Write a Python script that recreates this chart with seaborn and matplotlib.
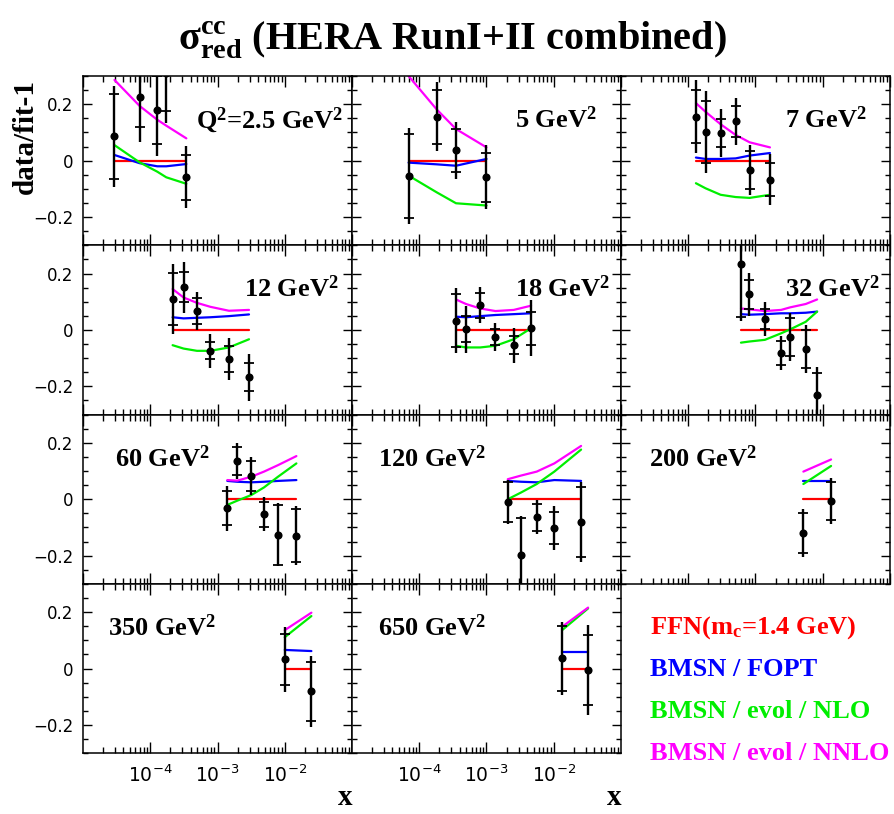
import numpy as np
import pandas as pd
import matplotlib
matplotlib.use("Agg")
import matplotlib.pyplot as plt
import matplotlib.ticker as mticker
import seaborn as sns

# ---------------- data ----------------
q2_labels = [r"Q$^{\mathbf{2}}$=2.5 GeV$^{\mathbf{2}}$", r"5 GeV$^{\mathbf{2}}$", r"7 GeV$^{\mathbf{2}}$",
             r"12 GeV$^{\mathbf{2}}$", r"18 GeV$^{\mathbf{2}}$", r"32 GeV$^{\mathbf{2}}$",
             r"60 GeV$^{\mathbf{2}}$", r"120 GeV$^{\mathbf{2}}$", r"200 GeV$^{\mathbf{2}}$",
             r"350 GeV$^{\mathbf{2}}$", r"650 GeV$^{\mathbf{2}}$"]

x_data = [
    [2.94e-5, 6.94e-5, 1.27e-4, 1.73e-4, 3.44e-4],
    [6.94e-5, 1.81e-4, 3.52e-4, 1.0e-3],
    [1.30e-4, 1.81e-4, 3.03e-4, 5.07e-4, 8.18e-4, 1.64e-3],
    [2.15e-4, 3.13e-4, 4.95e-4, 7.82e-4, 1.48e-3, 2.94e-3],
    [3.52e-4, 4.95e-4, 8.09e-4, 1.36e-3, 2.54e-3, 4.60e-3],
    [6.08e-4, 8.09e-4, 1.38e-3, 2.40e-3, 3.27e-3, 5.59e-3, 8.24e-3],
    [1.40e-3, 1.97e-3, 3.19e-3, 4.92e-3, 7.96e-3, 1.49e-2],
    [2.07e-3, 3.27e-3, 5.59e-3, 1.02e-2, 2.55e-2],
    [5.15e-3, 1.33e-2],
    [1.0e-2, 2.49e-2],
    [1.33e-2, 3.24e-2],
]
y_data = [
    [0.086, 0.227, 0.180, 0.31, -0.059],
    [-0.055, 0.156, 0.036, -0.059],
    [0.156, 0.102, 0.098, 0.139, -0.033, -0.068],
    [0.109, 0.151, 0.067, -0.074, -0.104, -0.168],
    [0.033, 0.002, 0.088, -0.026, -0.054, 0.006],
    [0.232, 0.126, 0.039, -0.082, -0.026, -0.068, -0.232],
    [-0.032, 0.136, 0.082, -0.053, -0.126, -0.129],
    [-0.009, -0.196, -0.064, -0.102, -0.081],
    [-0.12, -0.006],
    [0.033, -0.081],
    [0.036, -0.005],
]
err_inner = [
    [0.15, 0.107, 0.121, 0.134, 0.08],
    [0.148, 0.096, 0.076, 0.086],
    [0.094, 0.11, 0.05, 0.054, 0.068, 0.058],
    [0.092, 0.053, 0.046, 0.03, 0.046, 0.05],
    [0.095, 0.046, 0.044, 0.029, 0.032, 0.059],
    [0.187, 0.052, 0.035, 0.043, 0.068, 0.067, 0.081],
    [0.06, 0.05, 0.054, 0.044, 0.106, 0.095],
    [0.071, 0.129, 0.048, 0.058, 0.123],
    [0.072, 0.068],
    [0.09, 0.105],
    [0.115, 0.124],
]
err_total = [
    [0.178, 0.162, 0.162, 0.175, 0.11],
    [0.17, 0.123, 0.1, 0.114],
    [0.13, 0.146, 0.085, 0.083, 0.09, 0.09],
    [0.124, 0.09, 0.067, 0.06, 0.075, 0.083],
    [0.115, 0.082, 0.065, 0.05, 0.062, 0.099],
    [0.2, 0.076, 0.059, 0.06, 0.085, 0.085, 0.1],
    [0.08, 0.063, 0.066, 0.06, 0.112, 0.105],
    [0.078, 0.135, 0.06, 0.077, 0.141],
    [0.085, 0.08],
    [0.115, 0.125],
    [0.128, 0.161],
]
ffn = [[0.0] * len(v) for v in x_data]
bmsn_fopt = [
    [0.02, -0.009, -0.02, -0.02, -0.012],
    [-0.007, -0.013, -0.018, 0.006],
    [0.011, 0.006, 0.006, 0.008, 0.018, 0.027],
    [0.045, 0.041, 0.043, 0.045, 0.049, 0.055],
    [0.047, 0.045, 0.049, 0.053, 0.056, 0.059],
    [0.056, 0.054, 0.056, 0.059, 0.059, 0.061, 0.065],
    [0.065, 0.062, 0.06, 0.062, 0.065, 0.068],
    [0.065, 0.062, 0.06, 0.068, 0.065],
    [0.065, 0.065],
    [0.066, 0.062],
    [0.06, 0.06],
]
bmsn_nlo = [
    [0.055, -0.006, -0.039, -0.059, -0.082],
    [-0.053, -0.112, -0.151, -0.159],
    [-0.08, -0.098, -0.121, -0.129, -0.132, -0.121],
    [-0.054, -0.066, -0.074, -0.074, -0.062, -0.033],
    [-0.056, -0.062, -0.062, -0.056, -0.033, 0.006],
    [-0.045, -0.041, -0.035, -0.012, 0.002, 0.029, 0.065],
    [-0.02, -0.005, 0.015, 0.042, 0.08, 0.127],
    [0.0, 0.024, 0.054, 0.098, 0.176],
    [0.054, 0.118],
    [0.111, 0.186],
    [0.136, 0.213],
]
bmsn_nnlo = [
    [0.286, 0.194, 0.145, 0.124, 0.079],
    [0.30, 0.182, 0.112, 0.047],
    [0.204, 0.173, 0.129, 0.091, 0.065, 0.047],
    [0.145, 0.115, 0.096, 0.082, 0.068, 0.071],
    [0.108, 0.092, 0.076, 0.067, 0.071, 0.086],
    [0.076, 0.073, 0.067, 0.071, 0.08, 0.092, 0.108],
    [0.068, 0.066, 0.08, 0.098, 0.121, 0.153],
    [0.071, 0.084, 0.098, 0.127, 0.189],
    [0.098, 0.141],
    [0.136, 0.198],
    [0.148, 0.216],
]
model_names = ["FFN(m$_{\\mathbf{c}}$=1.4 GeV)", "BMSN / FOPT", "BMSN / evol / NLO", "BMSN / evol / NNLO"]
model_colors = ["#ff0000", "#0000ff", "#00ee00", "#ff00ff"]
x_tick_labels = [r"$\mathsf{10^{-4}}$", r"$\mathsf{10^{-3}}$", r"$\mathsf{10^{-2}}$"]
y_tick_labels = ["\u22120.2", "0", "0.2"]

# ---------------- style ----------------
sns.set_theme(style="ticks")
plt.rcParams["font.family"] = ["DejaVu Sans"]
plt.rcParams["text.color"] = "black"
plt.rcParams["axes.labelcolor"] = "black"
plt.rcParams["xtick.color"] = "black"
plt.rcParams["ytick.color"] = "black"
plt.rcParams["mathtext.fontset"] = "custom"
plt.rcParams["mathtext.rm"] = "Liberation Serif"
plt.rcParams["mathtext.bf"] = "Liberation Serif:bold"
plt.rcParams["mathtext.it"] = "Liberation Serif:italic"
plt.rcParams["mathtext.sf"] = "DejaVu Sans"
plt.rcParams["axes.linewidth"] = 1.1

W, H = 895, 814
fig = plt.figure(figsize=(W / 100, H / 100), dpi=100, facecolor="white")

lefts = [83, 352, 621]
tops = [76, 245.3, 414.6, 583.9]
pw, ph = 269, 169.3

serif_bold = dict(family=["Liberation Serif", "DejaVu Serif"], weight="bold", color="black")

# curves table
rows = []
for p in range(len(x_data)):
    for m, vals in enumerate([ffn[p], bmsn_fopt[p], bmsn_nlo[p], bmsn_nnlo[p]]):
        for xv, yv in zip(x_data[p], vals):
            rows.append(dict(panel=p, model=model_names[m], x=xv, y=yv))
curves = pd.DataFrame(rows)
palette = dict(zip(model_names, model_colors))

label_pos = [
    (0.965, 0.74, "right"), (0.91, 0.74, "right"), (0.915, 0.74, "right"),
    (0.952, 0.745, "right"), (0.96, 0.745, "right"), (0.963, 0.745, "right"),
    (0.119, 0.74, "left"), (0.097, 0.74, "left"), (0.104, 0.74, "left"),
    (0.093, 0.743, "left"), (0.097, 0.743, "left"),
]

for p in range(len(x_data)):
    r, c = divmod(p, 3)
    ax = fig.add_axes([lefts[c] / W, 1 - (tops[r] + ph) / H, pw / W, ph / H])
    sub = curves[curves.panel == p]
    sns.lineplot(data=sub, x="x", y="y", hue="model", palette=palette, hue_order=model_names,
                 estimator=None, sort=False, legend=False, linewidth=1.6, ax=ax)
    xs = np.array(x_data[p]); ys = np.array(y_data[p])
    ax.errorbar(xs, ys, yerr=np.array(err_total[p]), fmt="none", ecolor="black",
                elinewidth=1.7, capsize=0, zorder=4)
    ein = np.array(err_inner[p])
    ax.plot(xs, ys + ein, ls="none", marker="_", ms=6.5, mew=1.3, color="black", zorder=4)
    ax.plot(xs, ys - ein, ls="none", marker="_", ms=6.5, mew=1.3, color="black", zorder=4)
    sns.scatterplot(x=xs, y=ys, color="black", s=34, edgecolor="black", linewidth=0, zorder=5, ax=ax)

    ax.set_xscale("log")
    ax.set_xlim(1e-5, 1e-1)
    ax.set_ylim(-0.3, 0.3)
    ax.set_xlabel(""); ax.set_ylabel("")
    ax.xaxis.set_major_locator(mticker.FixedLocator([1e-5, 1e-4, 1e-3, 1e-2, 1e-1]))
    ax.xaxis.set_minor_locator(mticker.LogLocator(base=10, subs=np.arange(2, 10), numticks=20))
    ax.yaxis.set_major_locator(mticker.FixedLocator([-0.2, 0.0, 0.2]))
    ax.yaxis.set_minor_locator(mticker.MultipleLocator(0.05))
    ax.tick_params(axis="both", which="both", direction="in", top=True, right=True, width=1.0, color="black")
    ax.tick_params(axis="x", which="major", length=8)
    ax.tick_params(axis="x", which="minor", length=4.3)
    ax.tick_params(axis="y", which="major", length=6.5)
    ax.tick_params(axis="y", which="minor", length=3.6)
    for s in ax.spines.values():
        s.set_color("black"); s.set_linewidth(1.1)

    if c == 0:
        ax.set_yticklabels(y_tick_labels)
        ax.tick_params(axis="y", which="major", labelsize=12, pad=7, labelcolor="black")
    else:
        ax.tick_params(axis="y", labelleft=False)
    if r == 3:
        ax.xaxis.set_major_locator(mticker.FixedLocator([1e-4, 1e-3, 1e-2]))
        ax.set_xticklabels(x_tick_labels)
        ax.tick_params(axis="x", which="major", labelsize=13.5, pad=8, labelcolor="black")
        ax.xaxis.set_minor_locator(mticker.LogLocator(base=10, subs=np.arange(2, 10), numticks=20))
    else:
        ax.tick_params(axis="x", labelbottom=False)

    lx, ly, ha = label_pos[p]
    ax.text(lx, ly, q2_labels[p], transform=ax.transAxes, ha=ha, va="center", fontsize=19, **serif_bold)

# title
fig.text(0.505, 1 - 40 / H, r"$\mathbf{\sigma}^{\mathbf{cc}}_{\mathbf{red}}$ (HERA RunI+II combined)",
         ha="center", va="center", fontsize=29, **serif_bold)
# y label
fig.text(25 / W, 1 - 137 / H, "data/fit-1", rotation=90, ha="center", va="center", fontsize=21, **serif_bold)
# x labels
fig.text(345 / W, 1 - 805 / H, "x", ha="center", va="baseline", fontsize=21, **serif_bold)
fig.text(614 / W, 1 - 805 / H, "x", ha="center", va="baseline", fontsize=21, **serif_bold)

# legend texts
leg_y = [628, 669, 712, 753]
for name, col, yy in zip(model_names, model_colors, leg_y):
    kw = dict(serif_bold); kw["color"] = col
    fig.text(650 / W, 1 - yy / H, name, ha="left", va="center", fontsize=19, **kw)

fig.savefig("out.png", dpi=100, facecolor="white")
